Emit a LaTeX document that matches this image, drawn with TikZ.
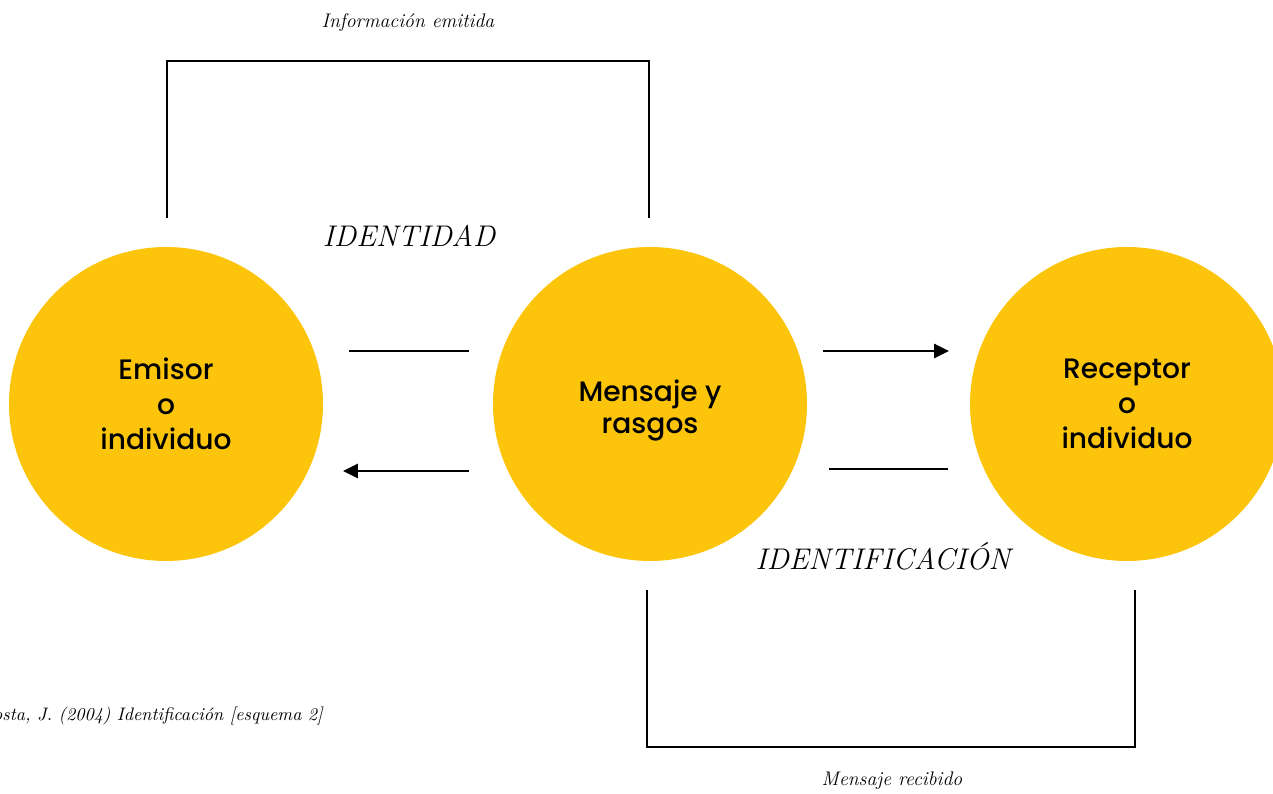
\documentclass[tikz,border=0pt]{standalone}
\usepackage{fontspec}
\newfontfamily\circfont{Poppins}[UprightFont=* Medium]
\usetikzlibrary{arrows.meta}
\definecolor{amarillo}{RGB}{252,197,12}
\tikzset{
  circulo/.style={circle,fill=amarillo,minimum size=6.28cm,inner sep=0pt,align=center,
    font=\circfont\fontsize{16}{19.9}\selectfont},
  linea/.style={line width=1.6pt},
  flecha/.style={line width=1.6pt,-{Triangle[length=8.5pt,width=8pt]}},
  titulo/.style={font=\fontsize{17}{20}\selectfont\itshape},
  nota/.style={font=\fontsize{11.2}{13}\selectfont\itshape}
}
\begin{document}
\begin{tikzpicture}
\clip (0,0) rectangle (25.46,15.88);
\node [circulo] (emisor) at (3.32,7.8) {Emisor\\o\\individuo};
\node [circulo] (mensaje) at (13.0,7.8) {\raisebox{-0.13cm}[\height][\depth]{\begin{tabular}{@{}c@{}}Mensaje y\\[-1.4pt]rasgos\end{tabular}}};
\node [circulo] (receptor) at (22.54,7.8) {Receptor\\o\\individuo};
% corchete superior y corchete inferior
\coordinate (ts1) at (3.34,11.52); \coordinate (ts2) at (12.98,11.52);
\coordinate (bi1) at (12.94,4.08); \coordinate (bi2) at (22.70,4.08);
\draw [linea] (ts1) -- (3.34,14.66) -- (12.98,14.66) -- (ts2);
\draw [linea] (bi1) -- (12.94,0.94) -- (22.70,0.94) -- (bi2);
% lineas y flechas entre circulos
\coordinate (a1) at (6.98,8.86); \coordinate (a2) at (9.38,8.86);
\coordinate (b1) at (9.38,6.46); \coordinate (b2) at (6.86,6.46);
\coordinate (c1) at (16.46,8.86); \coordinate (c2) at (18.98,8.86);
\coordinate (d1) at (16.58,6.5); \coordinate (d2) at (18.96,6.5);
\draw [linea] (a1) -- (a2);
\draw [flecha] (b1) -- (b2);
\draw [flecha] (c1) -- (c2);
\draw [linea] (d1) -- (d2);
% textos
\node [nota] (emitida) at (8.16,15.42) {Información emitida};
\node [titulo] (identidad) at (8.18,11.16) {IDENTIDAD};
\node [titulo] (identificacion) at (17.66,4.76) {IDENTIFICACIÓN};
\node [nota] (recibido) at (17.84,0.26) {Mensaje recibido};
\node [nota,anchor=east,font=\fontsize{10.3}{13}\selectfont\itshape] (fuente) at (6.58,1.56) {Costa, J. (2004) Identificación [esquema 2]};
\end{tikzpicture}
\end{document}
